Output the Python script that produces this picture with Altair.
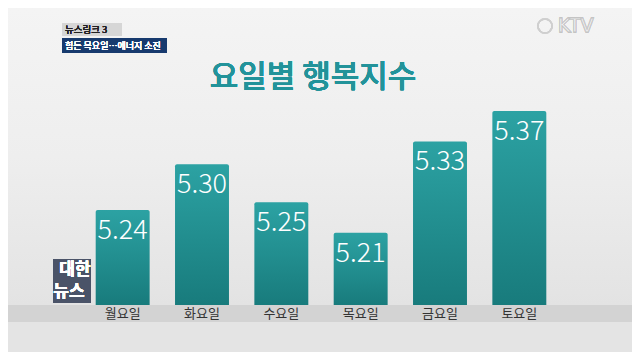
import altair as alt
import pandas as pd

days = ["월요일", "화요일", "수요일", "목요일", "금요일", "토요일"]
values = [5.24, 5.30, 5.25, 5.21, 5.33, 5.37]
value_labels = ["5.24", "5.30", "5.25", "5.21", "5.33", "5.37"]

df = pd.DataFrame({"day": days, "value": values, "label": value_labels})

W, H = 476, 213
FONT = "Noto Sans CJK KR"
YMIN = 5.115

x = alt.X("day:N", sort=days, title=None,
          scale=alt.Scale(paddingInner=0.32, paddingOuter=0.16),
          axis=alt.Axis(labelAngle=0, labelFont=FONT, labelFontSize=13,
                        labelColor="#333333", labelPadding=2, domain=False,
                        ticks=False, zindex=2))
y = alt.Y("value:Q", title=None, axis=None,
          scale=alt.Scale(domain=[YMIN, 5.395], zero=False, nice=False))

base = alt.Chart(df)

bg = base.mark_rect(
    color=alt.Gradient(gradient="linear",
                       stops=[alt.GradientStop(color="#f4f4f4", offset=0),
                              alt.GradientStop(color="#eeeeee", offset=0.5),
                              alt.GradientStop(color="#e3e3e3", offset=1)],
                       x1=0, x2=0, y1=0, y2=1)
).encode(x=alt.value(-75), x2=alt.value(W + 73), y=alt.value(-84), y2=alt.value(H))
band = base.mark_rect(color="#d3d3d3").encode(
    x=alt.value(-75), x2=alt.value(W + 73), y=alt.value(H), y2=alt.value(H + 17))
band2 = base.mark_rect(color="#e4e4e4").encode(
    x=alt.value(-75), x2=alt.value(W + 73), y=alt.value(H + 17), y2=alt.value(H + 47))

bars = base.mark_bar(
    color=alt.Gradient(gradient="linear",
                       stops=[alt.GradientStop(color="#2ca2a3", offset=0),
                              alt.GradientStop(color="#187b7c", offset=1)],
                       x1=0, x2=0, y1=0, y2=1),
    cornerRadiusTopLeft=2, cornerRadiusTopRight=2
).encode(x=x, y=y, y2=alt.Y2(datum=YMIN))

txt = base.mark_text(color="white", font=FONT, fontSize=27, fontWeight=300,
                     baseline="middle", dy=21).encode(x=x, y=y, text="label:N")

title = base.mark_text(text="요일별 행복지수", color="#22939a", font=FONT,
                       fontSize=31, fontWeight=500, baseline="middle").encode(
    x=alt.value(W / 2 - 8), y=alt.value(-14))

hdr1 = base.mark_rect(color="#d6d6d6").encode(
    x=alt.value(-21), x2=alt.value(39), y=alt.value(-69), y2=alt.value(-56))
hdr1t = base.mark_text(text="뉴스링크 3", color="#222222", font=FONT, fontSize=9.5,
                       align="left", baseline="middle").encode(
    x=alt.value(-18), y=alt.value(-62.5))
hdr2 = base.mark_rect(color="#173a6e").encode(
    x=alt.value(-21), x2=alt.value(84), y=alt.value(-54), y2=alt.value(-39))
hdr2t = base.mark_text(text="힘든 목요일…에너지 소진", color="white", font=FONT,
                       fontSize=9, align="left", baseline="middle").encode(
    x=alt.value(-18), y=alt.value(-46.5))

ktv = base.mark_text(text="KTV", color="#fafafa", stroke="#c4c4c4", strokeWidth=0.8,
                     font="DejaVu Sans", fontSize=19, align="left",
                     baseline="middle").encode(x=alt.value(475), y=alt.value(-66))
ktvc = base.mark_point(shape="circle", color="#cfcfcf", size=200, filled=False,
                       strokeWidth=1.5).encode(x=alt.value(462), y=alt.value(-66))

logo = base.mark_rect(color="#4a5368", opacity=0.9).encode(
    x=alt.value(-30), x2=alt.value(8), y=alt.value(H - 46), y2=alt.value(H - 2))
logo_t1 = base.mark_text(text="대한", color="white", font=FONT, fontSize=17,
                         fontWeight="bold", baseline="middle").encode(
    x=alt.value(-8), y=alt.value(H - 35))
logo_t2 = base.mark_text(text="뉴스", color="white", font=FONT, fontSize=17,
                         fontWeight="bold", baseline="middle").encode(
    x=alt.value(-14), y=alt.value(H - 13))

chart = alt.layer(bg, band, band2, bars, txt, title, hdr1, hdr1t, hdr2, hdr2t,
                  ktvc, ktv, logo, logo_t1, logo_t2).properties(
    width=W, height=H,
    background="#e9e9e9",
    padding={"left": 75, "top": 84, "right": 73, "bottom": 47},
    autosize=alt.AutoSizeParams(type="none"),
).configure_view(stroke=None)

chart.save("out.html", embed_options={"renderer": "svg", "actions": False})
